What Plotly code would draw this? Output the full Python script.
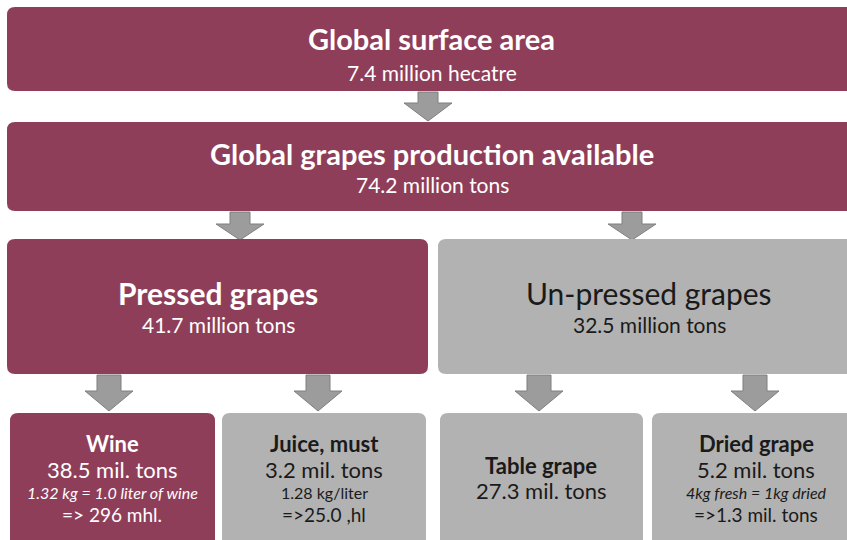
import plotly.graph_objects as go

# ---- data ----
surface_title = "Global surface area"
surface_value = "7.4 million hecatre"
production_title = "Global grapes production available"
production_value = "74.2 million tons"

split_titles = ["Pressed grapes", "Un-pressed grapes"]
split_values = ["41.7 million tons", "32.5 million tons"]

use_titles = ["Wine", "Juice, must", "Table grape", "Dried grape"]
use_values = ["38.5 mil. tons", "3.2 mil. tons", "27.3 mil. tons", "5.2 mil. tons"]
use_notes = ["1.32 kg = 1.0 liter of wine", "1.28 kg/liter", "", "4kg fresh = 1kg dried"]
use_results = ["=> 296 mhl.", "=>25.0 ,hl", "", "=>1.3 mil. tons"]

# ---- styling ----
MAROON = "#8F3E5A"
GREY = "#B2B2B2"
ARROW_FILL = "#9C9C9C"
ARROW_LINE = "#7F7F7F"
FONT = "Lato"
W, H = 847, 540


def rounded_rect(x0, y0, x1, y1, r=8):
    return (
        f"M{x0 + r},{y0} L{x1 - r},{y0} Q{x1},{y0} {x1},{y0 + r} "
        f"L{x1},{y1 - r} Q{x1},{y1} {x1 - r},{y1} L{x0 + r},{y1} "
        f"Q{x0},{y1} {x0},{y1 - r} L{x0},{y0 + r} Q{x0},{y0} {x0 + r},{y0} Z"
    )


def down_arrow(cx, y0, y1, shaft=20, head=48, head_h=18):
    hs, hh = shaft / 2, head / 2
    yh = y1 - head_h
    return (
        f"M{cx - hs},{y0} L{cx + hs},{y0} L{cx + hs},{yh} L{cx + hh},{yh} "
        f"L{cx},{y1} L{cx - hh},{yh} L{cx - hs},{yh} Z"
    )


shapes = []


def add_box(x0, y0, x1, y1, color):
    shapes.append(dict(type="path", path=rounded_rect(x0, y0, x1, y1),
                       fillcolor=color, line=dict(width=0), xref="x", yref="y"))


def add_arrow(cx, y0, y1, **kw):
    shapes.append(dict(type="path", path=down_arrow(cx, y0, y1, **kw),
                       fillcolor=ARROW_FILL, line=dict(color=ARROW_LINE, width=1),
                       xref="x", yref="y"))


annotations = []


def add_text(x, y, text, size, color, bold=False, italic=False):
    if bold:
        text = f"<b>{text}</b>"
    if italic:
        text = f"<i>{text}</i>"
    annotations.append(dict(x=x, y=y, xref="x", yref="y", text=text, showarrow=False,
                            font=dict(family=FONT, size=size, color=color),
                            xanchor="center", yanchor="middle"))


# top rows
add_box(7, 7, 860, 91, MAROON)
add_text(431, 38, surface_title, 29, "white", bold=True)
add_text(432, 72, surface_value, 21, "white")
add_arrow(428, 92, 121)

add_box(7, 122, 860, 211, MAROON)
add_text(432, 153, production_title, 29, "white", bold=True)
add_text(432, 184, production_value, 21, "white")
add_arrow(240, 212, 240, head_h=16)
add_arrow(632, 212, 240, head_h=16)

# split row
split_boxes = [(7, 239, 428, 374), (438, 239, 860, 374)]
split_colors = [MAROON, GREY]
split_text_x = [218, 649]
for i, (x0, y0, x1, y1) in enumerate(split_boxes):
    add_box(x0, y0, x1, y1, split_colors[i])
    tc = "white" if split_colors[i] == MAROON else "#1a1a1a"
    add_text(split_text_x[i], 293, split_titles[i], 30, tc, bold=(i == 0))
    add_text(split_text_x[i], 324, split_values[i], 21, tc)

# arrows to use boxes
for cx in [109, 318, 539, 755]:
    add_arrow(cx, 375, 411, shaft=24, head=48, head_h=20)

# use row
use_boxes = [(10, 413, 215, 560), (222, 413, 426, 560), (440, 413, 643, 560), (652, 413, 860, 560)]
use_colors = [MAROON, GREY, GREY, GREY]
use_text_x = [112, 324, 541, 756]
for i, (x0, y0, x1, y1) in enumerate(use_boxes):
    add_box(x0, y0, x1, y1, use_colors[i])
    tc = "white" if use_colors[i] == MAROON else "#1a1a1a"
    cx = use_text_x[i]
    if use_notes[i]:
        add_text(cx, 443, use_titles[i], 22, tc, bold=True)
        add_text(cx, 469, use_values[i], 22, tc)
        add_text(cx, 492, use_notes[i], 16, tc, italic=(i != 1))
        add_text(cx, 514, use_results[i], 19, tc)
    else:
        add_text(cx, 465, use_titles[i], 22, tc, bold=True)
        add_text(cx, 490, use_values[i], 22, tc)

fig = go.Figure()
fig.update_layout(
    width=W, height=H,
    margin=dict(l=0, r=0, t=0, b=0),
    paper_bgcolor="white", plot_bgcolor="white",
    xaxis=dict(range=[0, W], visible=False, fixedrange=True),
    yaxis=dict(range=[H, 0], visible=False, fixedrange=True),
    shapes=shapes, annotations=annotations,
    showlegend=False,
)
fig.write_html(
    "out.html",
    config={"displayModeBar": False},
    post_script="document.body.style.margin='0';document.body.style.overflow='hidden';",
)
